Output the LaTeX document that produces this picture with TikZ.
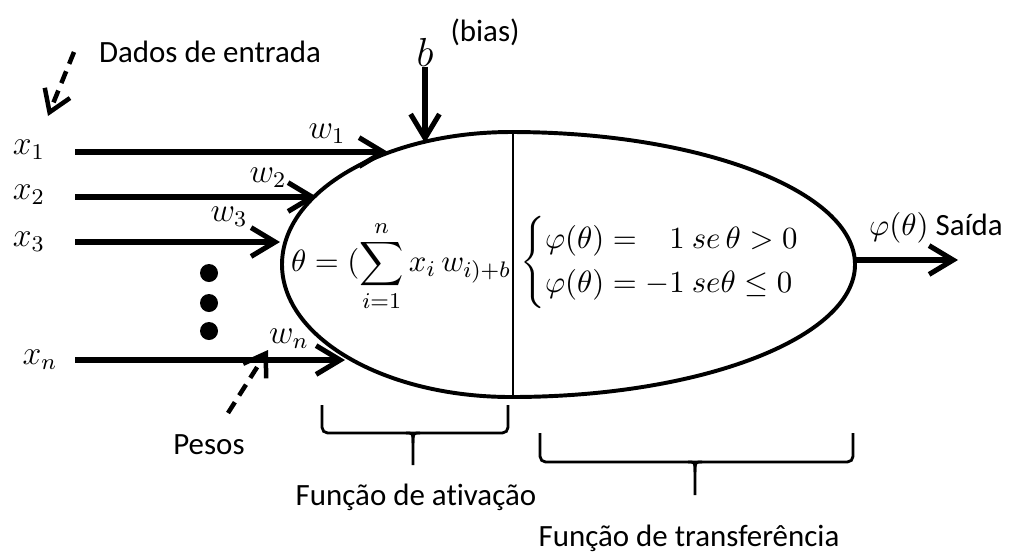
\documentclass[tikz,border=0pt]{standalone}
\usepackage{amsmath}
\usepackage{fontspec}
\setmainfont{Carlito}[Ligatures=NoCommon]
\usetikzlibrary{arrows.meta}
\newcommand{\ponto}[1]{\fill (#1) circle (0.9)}
\newcommand{\chave}[6]{\draw[line width=1pt, rounded corners=2pt] (#1,#4) -- (#1,#5) -- (#3,#5) -- (#3,#4);
	\draw[line width=1pt] (#2-0.7,#5) .. controls (#2,#5) .. (#2,#5-1) -- (#2,#6);
	\draw[line width=1pt] (#2+0.7,#5) .. controls (#2,#5) .. (#2,#5-1)}
\tikzset{
	seta/.style={line width=1.8pt, -{Straight Barb[length=3mm,width=3.6mm]}},
	tracejada/.style={line width=1.6pt, dash pattern=on 1.6mm off 1mm, -{Straight Barb[length=2.6mm,width=3.4mm]}},
	mat/.style={font=\fontsize{12}{14}\selectfont, inner sep=0pt},
	dentro/.style={font=\fontsize{11}{13}\selectfont, inner sep=0pt},
}

\begin{document}
\begin{tikzpicture}[x=1.25mm, y=1.25mm, font=\fontsize{11}{13}\selectfont]
	\useasboundingbox (0,0) rectangle (101.5,-55.4);
%Entradas
	\node (dados) at (21.0,-5.2) {Dados de entrada};
	\coordinate (d0) at (7.4,-5.2);
	\coordinate (d1) at (4.8,-11.6);
	\draw[tracejada] (d0) -- (d1);
	\node[mat] (x1) at (2.9,-15.0) {$x_1$};
	\node[mat] (x2) at (2.9,-19.5) {$x_2$};
	\node[mat] (x3) at (2.9,-24.2) {$x_3$};
	\node[mat] (xn) at (4.0,-36.0) {$x_n$};
	\coordinate (e1) at (7.5,-15.2);
	\coordinate (f1) at (38.8,-15.2);
	\coordinate (e2) at (7.5,-19.7);
	\coordinate (f2) at (31.7,-19.7);
	\coordinate (e3) at (7.5,-24.2);
	\coordinate (f3) at (28.0,-24.2);
	\coordinate (en) at (7.5,-36.0);
	\coordinate (fn) at (34.5,-36.0);
	\draw[seta] (e1) -- (f1);
	\draw[seta] (e2) -- (f2);
	\draw[seta] (e3) -- (f3);
	\draw[seta] (en) -- (fn);
	\ponto{20.9,-27.3};
	\ponto{20.9,-30.3};
	\ponto{20.9,-33.1};
%Pesos
	\node[mat] (w1) at (32.7,-13.4) {$w_1$};
	\node[mat] (w2) at (26.8,-17.8) {$w_2$};
	\node[mat] (w3) at (22.9,-21.7) {$w_3$};
	\node[mat] (wn) at (28.9,-33.9) {$w_n$};
	\node (pesos) at (20.9,-44.5) {Pesos};
	\coordinate (p0) at (22.8,-41.3);
	\coordinate (p1) at (26.8,-35.0);
	\draw[tracejada] (p0) -- (p1);
%Bias
	\node[mat, font=\fontsize{15}{17}\selectfont] (b) at (42.5,-5.2) {$b$};
	\node (bias) at (48.5,-3.2) {(bias)};
	\coordinate (bfim) at (42.5,-14.3);
	\draw[seta] (b.south) -- (bfim);
%Neuronio
	\draw[line width=1.4pt] (51.1,-13.2) arc[start angle=90, end angle=270, x radius=22.9, y radius=13.25]
		arc[start angle=270, end angle=450, x radius=34.4, y radius=13.25];
	\draw[line width=0.9pt] (51.3,-13.3) -- (51.3,-39.8);
	\node[dentro] (soma) at (40.1,-26.6) {$\displaystyle\theta = (\sum_{i=1}^{n} x_i\, w_{i)+b}$};
	\node[dentro] (casos) at (67.6,-26.2) {$\begin{cases}\varphi(\theta) = \phantom{-}1\ se\,\theta > 0\\ \varphi(\theta) = -1\ se\theta \leq 0\end{cases}$};
%Saida
	\coordinate (s0) at (85.5,-26.0);
	\coordinate (s1) at (95.8,-26.0);
	\draw[seta] (s0) -- (s1);
	\node (saida) at (93.6,-22.8) {$\varphi(\theta)$ Saída};
%Chaves
	\chave{32.2}{41.3}{50.8}{-40.5}{-43.3}{-46.5};
	\node (ativ) at (41.6,-49.7) {Função de ativação};
	\chave{54.0}{69.5}{85.3}{-43.3}{-46.2}{-49.5};
	\node (transf) at (68.9,-53.8) {Função de transferência};
\end{tikzpicture}
\end{document}
